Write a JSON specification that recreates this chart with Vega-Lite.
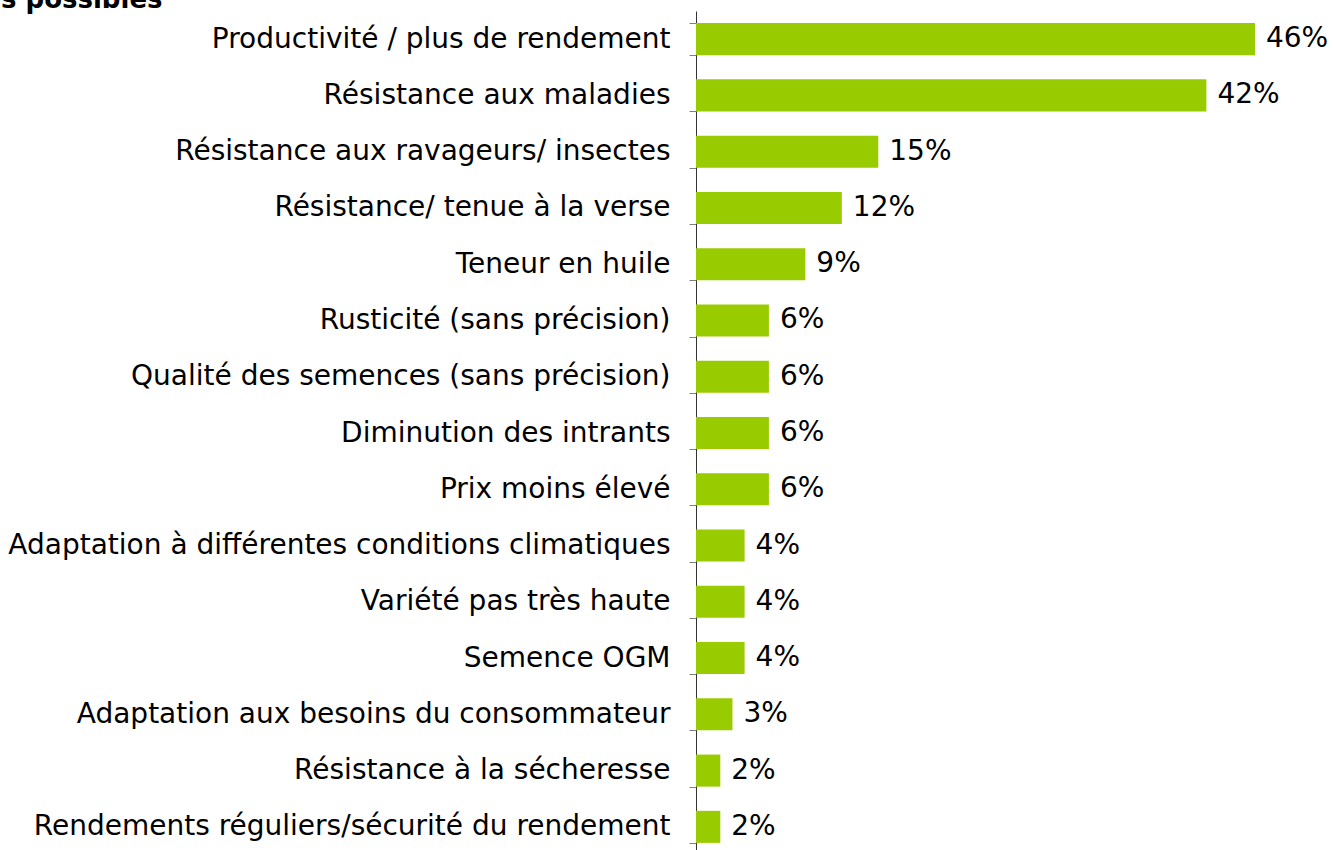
{
  "$schema": "https://vega.github.io/schema/vega-lite/v6.json",
  "autosize": "none",
  "width": 637,
  "height": 844,
  "padding": {"left": 696, "top": 11, "right": 0, "bottom": 0},
  "background": "white",
  "config": {"view": {"stroke": null}},
  "data": {
    "values": [
      {"critere": "Productivité / plus de rendement\u00a0", "part": 0.46},
      {"critere": "Résistance aux maladies", "part": 0.42},
      {"critere": "Résistance aux ravageurs/ insectes", "part": 0.15},
      {"critere": "Résistance/ tenue à la verse", "part": 0.12},
      {"critere": "Teneur en huile", "part": 0.09},
      {"critere": "Rusticité (sans précision)", "part": 0.06},
      {"critere": "Qualité des semences (sans précision)", "part": 0.06},
      {"critere": "Diminution des intrants", "part": 0.06},
      {"critere": "Prix moins élevé", "part": 0.06},
      {"critere": "Adaptation à différentes conditions climatiques", "part": 0.04},
      {"critere": "Variété pas très haute", "part": 0.04},
      {"critere": "Semence OGM", "part": 0.04},
      {"critere": "Adaptation aux besoins du consommateur", "part": 0.03},
      {"critere": "Résistance à la sécheresse", "part": 0.02},
      {"critere": "Rendements réguliers/sécurité du rendement", "part": 0.02}
    ]
  },
  "encoding": {
    "y": {
      "field": "critere",
      "type": "nominal",
      "sort": null,
      "scale": {"paddingInner": 0.43, "paddingOuter": 0.215},
      "axis": {
        "title": "Plusieurs réponses possibles",
        "titleX": -534,
        "titleY": -4,
        "titleAngle": 0,
        "titleAlign": "right",
        "titleBaseline": "alphabetic",
        "titleFontSize": 26,
        "titleFontWeight": "bold",
        "titleFont": "DejaVu Sans",
        "titleColor": "black",
        "orient": "left",
        "tickBand": "extent",
        "tickSize": 7,
        "tickColor": "#808080",
        "tickWidth": 1,
        "domainColor": "#333333",
        "domainWidth": 1,
        "labelFontSize": 28,
        "labelFont": "DejaVu Sans",
        "labelColor": "black",
        "labelPadding": 19,
        "labelLimit": 0,
        "grid": false
      }
    },
    "x": {
      "field": "part",
      "type": "quantitative",
      "scale": {"domain": [0, 0.5242], "nice": false, "zero": true},
      "axis": null
    }
  },
  "layer": [
    {"mark": {"type": "bar", "color": "#99CC00"}},
    {
      "mark": {"type": "text", "align": "left", "baseline": "middle", "dx": 11, "fontSize": 28, "font": "DejaVu Sans", "color": "black"},
      "encoding": {"text": {"field": "part", "type": "quantitative", "format": ".0%"}}
    }
  ]
}
